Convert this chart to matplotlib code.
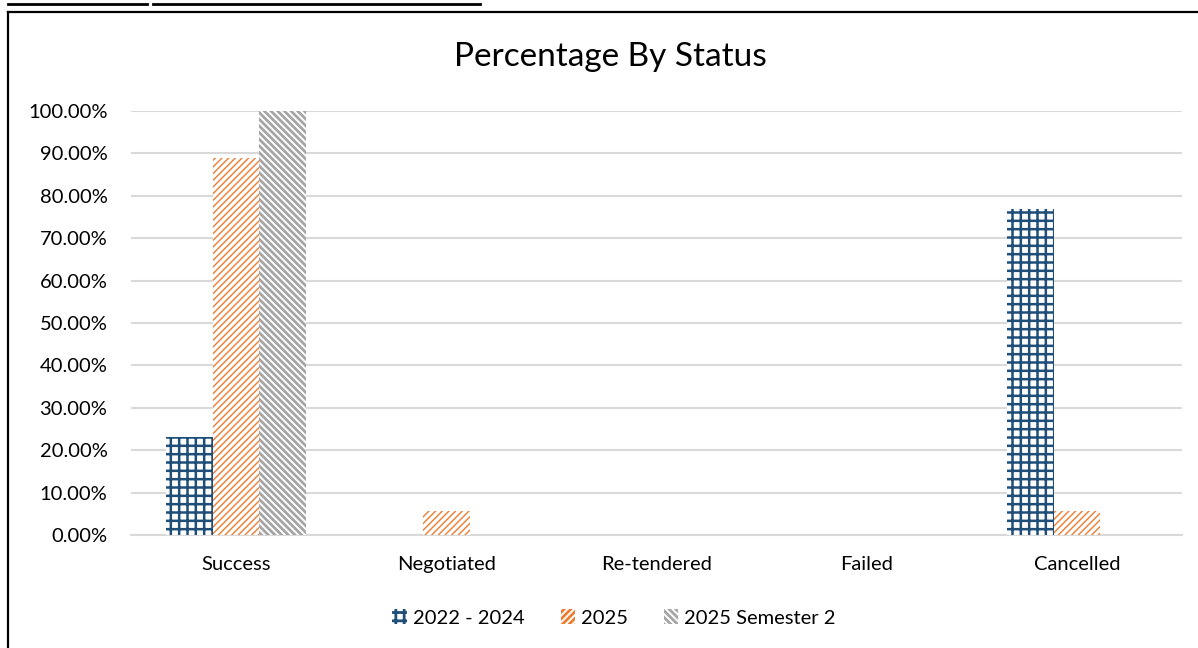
import matplotlib
matplotlib.use("Agg")
import matplotlib.pyplot as plt
import numpy as np
from matplotlib.lines import Line2D
from matplotlib.ticker import PercentFormatter

categories = ["Success", "Negotiated", "Re-tendered", "Failed", "Cancelled"]
series_names = ["2022 - 2024", "2025", "2025 Semester 2"]
vals_2022_2024 = [23.08, 0.0, 0.0, 0.0, 76.92]
vals_2025 = [88.89, 5.56, 0.0, 0.0, 5.56]
vals_2025_s2 = [100.0, 0.0, 0.0, 0.0, 0.0]
yticks = [0, 10, 20, 30, 40, 50, 60, 70, 80, 90, 100]

plt.rcParams['font.family'] = ['Lato', 'DejaVu Sans']

fig = plt.figure(figsize=(11.98, 6.48), dpi=100)
ax = fig.add_axes([131/1198, 1-535/648, (1182-131)/1198, (535-111)/648])

x = np.arange(len(categories))
w = 1/4.5
styles = [
    dict(color="#1F4E79", hatch="++", lw=1.8),
    dict(color="#ED7D31", hatch="/////", lw=1.0),
    dict(color="#A5A5A5", hatch="\\\\\\\\\\", lw=2.0),
]
all_vals = [vals_2022_2024, vals_2025, vals_2025_s2]
handles = []
for i, (vals, st, name) in enumerate(zip(all_vals, styles, series_names)):
    plt.rcParams['hatch.linewidth'] = st["lw"]
    bars = ax.bar(x + (i - 1) * w, vals, w, facecolor="white",
                  edgecolor=st["color"], hatch=st["hatch"], linewidth=0,
                  zorder=3, label=name)
    handles.append(bars)

ax.set_xlim(-0.5, len(categories) - 0.5)
ax.set_ylim(0, 100)
ax.set_yticks(yticks)
ax.yaxis.set_major_formatter(PercentFormatter(decimals=2))
ax.set_xticks(x)
ax.set_xticklabels(categories)
ax.tick_params(axis='both', length=0, labelsize=14.5, colors="#000000")
ax.tick_params(axis='x', pad=15)
ax.tick_params(axis='y', pad=17)
ax.grid(axis='y', color="#D9D9D9", linewidth=1.5, zorder=0)
for s in ["top", "right", "left"]:
    ax.spines[s].set_visible(False)
ax.spines["bottom"].set_color("#D9D9D9")
ax.spines["bottom"].set_linewidth(1.5)

fig.text(610/1198, 1-57/648, "Percentage By Status", ha="center", va="center",
         fontsize=24, color="#000000")

leg = fig.legend(handles=handles, labels=series_names, loc="center",
                 bbox_to_anchor=(614/1198, 1-618/648), ncol=3, frameon=False,
                 fontsize=14.5, handlelength=0.7, handleheight=0.7,
                 handletextpad=0.3, columnspacing=1.8)

# outer border (chart frame) and underline fragments from cropped caption
fig.add_artist(Line2D([8/1198, 8/1198], [0, 1-12/648], transform=fig.transFigure,
                      color="black", lw=1.6))
fig.add_artist(Line2D([8/1198, 1.0], [1-12/648, 1-12/648], transform=fig.transFigure,
                      color="black", lw=1.6))
fig.add_artist(Line2D([8/1198, 147/1198], [1-4/648, 1-4/648], transform=fig.transFigure,
                      color="black", lw=2.0))
fig.add_artist(Line2D([153/1198, 480/1198], [1-4/648, 1-4/648], transform=fig.transFigure,
                      color="black", lw=2.0))

fig.savefig("out.png", dpi=100, facecolor="white")
